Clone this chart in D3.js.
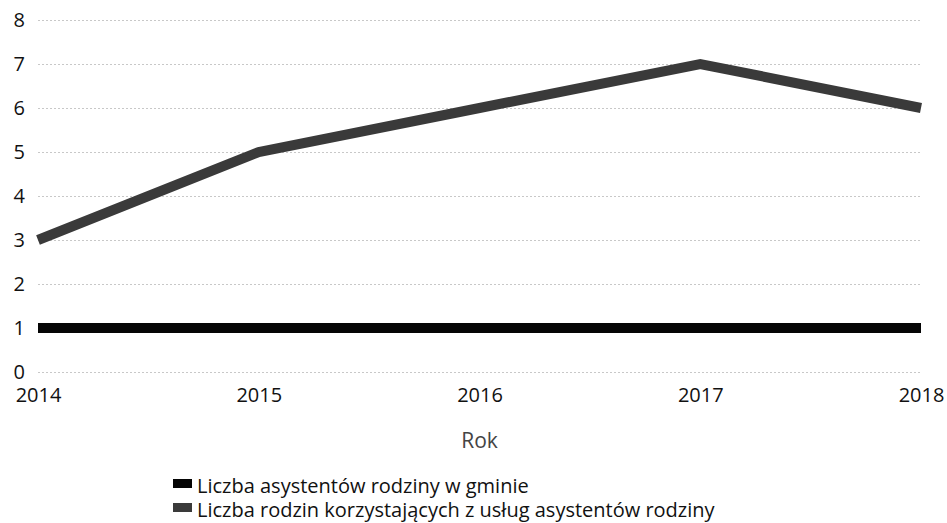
<!DOCTYPE html>
<html>
<head>
<meta charset="utf-8">
<style>
body { margin: 0; background: #fff; }
svg text { font-family: "Open Sans", "Noto Sans", sans-serif; fill: #111; }
.grid line { stroke: #c8c8c8; stroke-width: 1; stroke-dasharray: 2,2; }
.grid path { display: none; }
.axis path, .axis line { display: none; }
</style>
</head>
<body>
<script src="https://d3js.org/d3.v7.min.js"></script>
<script>

// data
var years = [2014, 2015, 2016, 2017, 2018];
var asystenci = [1, 1, 1, 1, 1];
var rodziny = [3, 5, 6, 7, 6];
var yTicks = [0, 1, 2, 3, 4, 5, 6, 7, 8];
var seriesNames = ["Liczba asystentów rodziny w gminie",
                   "Liczba rodzin korzystających z usług asystentów rodziny"];
var seriesColors = ["#050505", "#3a3a3a"];

var W = 947, H = 523;
var margin = {top: 20, right: 26, bottom: 151, left: 38};

var svg = d3.select("body").append("svg")
    .attr("width", W)
    .attr("height", H);

var x = d3.scalePoint()
    .domain(years)
    .range([margin.left, W - margin.right]);

var y = d3.scaleLinear()
    .domain([0, 8])
    .range([H - margin.bottom, margin.top]);

// gridlines
svg.append("g")
    .attr("class", "grid")
    .attr("transform", "translate(" + margin.left + ",0)")
    .call(d3.axisLeft(y).tickValues(yTicks).tickSize(-(W - margin.right - margin.left)).tickFormat(""));

// y axis labels
svg.append("g")
    .attr("class", "axis")
    .attr("transform", "translate(" + margin.left + ",0)")
    .call(d3.axisLeft(y).tickValues(yTicks).tickSize(0).tickPadding(13))
    .selectAll("text")
    .style("font-size", "20px");

// x axis labels
svg.append("g")
    .attr("class", "axis")
    .attr("transform", "translate(0," + (H - margin.bottom) + ")")
    .call(d3.axisBottom(x).tickSize(0).tickPadding(16).tickFormat(d3.format("d")))
    .selectAll("text")
    .style("font-size", "20px");

// axis title
svg.append("text")
    .attr("x", (margin.left + W - margin.right) / 2)
    .attr("y", 448)
    .attr("text-anchor", "middle")
    .style("font-size", "21px")
    .style("fill", "#444")
    .text("Rok");

// lines
var line = d3.line()
    .x(function(d, i) { return x(years[i]); })
    .y(function(d) { return y(d); });

[asystenci, rodziny].forEach(function(s, k) {
    svg.append("path")
        .datum(s)
        .attr("fill", "none")
        .attr("stroke", seriesColors[k])
        .attr("stroke-width", 10)
        .attr("stroke-linejoin", "miter")
        .attr("d", line);
});

// legend
var legend = svg.append("g").attr("transform", "translate(173,479)");
seriesNames.forEach(function(name, k) {
    var g = legend.append("g").attr("transform", "translate(0," + (k * 24) + ")");
    g.append("rect")
        .attr("width", 19)
        .attr("height", 9)
        .attr("fill", seriesColors[k]);
    g.append("text")
        .attr("x", 24)
        .attr("y", 14)
        .style("font-size", "20px")
        .text(name);
});

</script>
</body>
</html>
